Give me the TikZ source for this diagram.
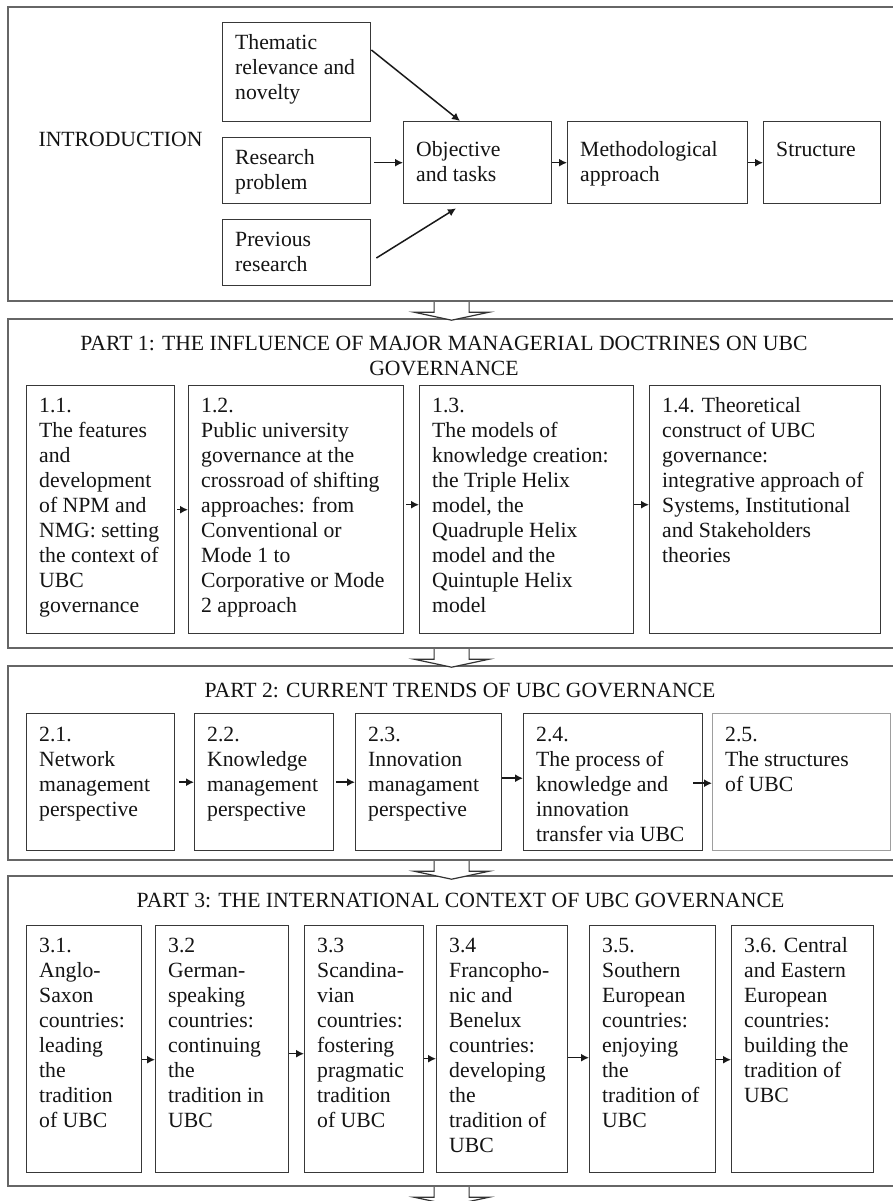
\documentclass[tikz,border=0pt]{standalone}
\usepackage{fontspec}
\setmainfont{Liberation Serif}
\usetikzlibrary{arrows.meta,calc}

% hollow down arrow that joins one part frame to the next
\newcommand\downblock[1]{%
  \draw[bigarrow] ([xshift=-18.5pt]#1.south) -- ++(0,10) -- ++(-20,0)
    -- ++(37.5,8) -- ++(37.5,-8) -- ++(-20,0) -- ++(0,-10);}

\begin{document}
\begin{tikzpicture}[x=1pt,y=-1pt,
  every node/.style={font=\fontsize{21.7}{25}\selectfont, text=black!92},
  frame/.style={draw=black!60, line width=2.2pt, fill=white, anchor=north west, inner sep=0pt},
  cell/.style={draw=black!78, line width=1.4pt, fill=white, anchor=north west, inner sep=0pt},
  faint/.style={draw=black!38},
  txt/.style={anchor=north west, inner sep=0pt, align=left},
  link/.style={draw=black!90, line width=1.5pt, -{Latex[length=8pt,width=8pt]}},
  bigarrow/.style={draw=black!80, line width=1.2pt, fill=white, line join=miter},
]
\useasboundingbox (0,0) rectangle (893,1201);

% ---- part frames ----
\node[frame, minimum width=889pt, minimum height=294pt] (intro) at (7,6) {};
\node[frame, minimum width=889pt, minimum height=329pt] (p1) at (7,318) {};
\node[frame, minimum width=889pt, minimum height=194pt] (p2) at (7,665) {};
\node[frame, minimum width=889pt, minimum height=310pt] (p3) at (7,875) {};

\downblock{intro}
\downblock{p1}
\downblock{p2}
\downblock{p3}

% ---- introduction ----
\node[anchor=base] (introlabel) at (120.5,147) {INTRODUCTION};

\node[cell, minimum width=148pt, minimum height=99pt] (tm) at (222,22) {};
\node[cell, minimum width=148pt, minimum height=66pt] (rp) at (222,137) {};
\node[cell, minimum width=148pt, minimum height=66pt] (pr) at (222,219) {};
\node[cell, minimum width=148pt, minimum height=82pt] (ob) at (403,121) {};
\node[cell, minimum width=180pt, minimum height=82pt] (me) at (567,121) {};
\node[cell, minimum width=117pt, minimum height=82pt] (st) at (763,121) {};

\node[txt] (tmx) at ([xshift=13pt,yshift=-11pt]tm.north west) {\rule{0pt}{16pt}Thematic\\relevance and\\novelty};
\node[txt] (rpx) at ([xshift=13pt,yshift=-11pt]rp.north west) {\rule{0pt}{16pt}Research\\problem};
\node[txt] (prx) at ([xshift=13pt,yshift=-11pt]pr.north west) {\rule{0pt}{16pt}Previous\\research};
\node[txt] (obx) at ([xshift=13pt,yshift=-19pt]ob.north west) {\rule{0pt}{16pt}Objective\\and tasks};
\node[txt] (mex) at ([xshift=13pt,yshift=-19pt]me.north west) {\rule{0pt}{16pt}Methodological\\approach};
\node[txt] (stx) at ([xshift=13pt,yshift=-19pt]st.north west) {\rule{0pt}{16pt}Structure};

\draw[link] ([yshift=-28pt]tm.north east) -- ([xshift=57pt]ob.north west);
\draw[link] ([xshift=3pt]rp.east |- ob.west) -- (ob.west);
\draw[link] ([xshift=5pt,yshift=-39pt]pr.north east) -- ([xshift=53pt,yshift=-4pt]ob.south west);
\draw[link] (ob.east) -- (me.west);
\draw[link] (me.east) -- (st.west);

% ---- part 1 ----
\node[anchor=north, align=center] (p1title) at (444,331)
  {\rule{0pt}{16pt}PART 1: THE INFLUENCE OF MAJOR MANAGERIAL DOCTRINES ON UBC\\GOVERNANCE};

\node[cell, minimum width=148pt, minimum height=248pt] (b11) at (26,385) {};
\node[cell, minimum width=215pt, minimum height=248pt] (b12) at (188,385) {};
\node[cell, minimum width=214pt, minimum height=248pt] (b13) at (419,385) {};
\node[cell, minimum width=231pt, minimum height=248pt] (b14) at (649,385) {};

\node[txt] (b11x) at ([xshift=13pt,yshift=-11pt]b11.north west)
  {\rule{0pt}{16pt}1.1.\\The features\\and\\development\\of NPM and\\NMG: setting\\the context of\\UBC\\governance};
\node[txt] (b12x) at ([xshift=13pt,yshift=-11pt]b12.north west)
  {\rule{0pt}{16pt}1.2.\\Public university\\governance at the\\crossroad of shifting\\approaches: from\\Conventional or\\Mode 1 to\\Corporative or Mode\\2 approach};
\node[txt] (b13x) at ([xshift=13pt,yshift=-11pt]b13.north west)
  {\rule{0pt}{16pt}1.3.\\The models of\\knowledge creation:\\the Triple Helix\\model, the\\Quadruple Helix\\model and the\\Quintuple Helix\\model};
\node[txt] (b14x) at ([xshift=13pt,yshift=-11pt]b14.north west)
  {\rule{0pt}{16pt}1.4. Theoretical\\construct of UBC\\governance:\\integrative approach of\\Systems, Institutional\\and Stakeholders\\theories};

\draw[link] ([xshift=2pt]b11.east) -- (b12.west);
\draw[link] ([xshift=2pt,yshift=5pt]b12.east) -- ([yshift=5pt]b13.west);
\draw[link] ([yshift=5pt]b13.east) -- ([yshift=5pt]b14.west);

% ---- part 2 ----
\node[anchor=base] (p2title) at (460,697) {PART 2: CURRENT TRENDS OF UBC GOVERNANCE};

\node[cell, minimum width=148pt, minimum height=137pt] (b21) at (26,713) {};
\node[cell, minimum width=139pt, minimum height=137pt] (b22) at (194,713) {};
\node[cell, minimum width=146pt, minimum height=137pt] (b23) at (355,713) {};
\node[cell, minimum width=179pt, minimum height=137pt] (b24) at (523,713) {};
\node[cell, faint, minimum width=178pt, minimum height=137pt] (b25) at (712,713) {};

\node[txt] (b21x) at ([xshift=13pt,yshift=-12pt]b21.north west) {\rule{0pt}{16pt}2.1.\\Network\\management\\perspective};
\node[txt] (b22x) at ([xshift=13pt,yshift=-12pt]b22.north west) {\rule{0pt}{16pt}2.2.\\Knowledge\\management\\perspective};
\node[txt] (b23x) at ([xshift=13pt,yshift=-12pt]b23.north west) {\rule{0pt}{16pt}2.3.\\Innovation\\managament\\perspective};
\node[txt] (b24x) at ([xshift=13pt,yshift=-12pt]b24.north west) {\rule{0pt}{16pt}2.4.\\The process of\\knowledge and\\innovation\\transfer via UBC};
\node[txt] (b25x) at ([xshift=13pt,yshift=-12pt]b25.north west) {\rule{0pt}{16pt}2.5.\\The structures\\of UBC};

\draw[link] ([xshift=4pt]b21.east) -- (b22.west);
\draw[link] ([xshift=2pt]b22.east) -- (b23.west);
\draw[link] ([yshift=4pt]b23.east) -- ([yshift=4pt]b24.west);
\draw[link] ([xshift=-10pt,yshift=-1pt]b24.east) -- ([yshift=-1pt]b25.west);

% ---- part 3 ----
\node[anchor=base] (p3title) at (460.5,907) {PART 3: THE INTERNATIONAL CONTEXT OF UBC GOVERNANCE};

\node[cell, minimum width=115pt, minimum height=247pt] (b31) at (26,925) {};
\node[cell, minimum width=133pt, minimum height=247pt] (b32) at (155,925) {};
\node[cell, minimum width=119pt, minimum height=247pt] (b33) at (304,925) {};
\node[cell, minimum width=131pt, minimum height=247pt] (b34) at (436,925) {};
\node[cell, minimum width=126pt, minimum height=247pt] (b35) at (589,925) {};
\node[cell, minimum width=142pt, minimum height=247pt] (b36) at (731,925) {};

\node[txt] (b31x) at ([xshift=13pt,yshift=-11pt]b31.north west)
  {\rule{0pt}{16pt}3.1.\\Anglo-\\Saxon\\countries:\\leading\\the\\tradition\\of UBC};
\node[txt] (b32x) at ([xshift=13pt,yshift=-11pt]b32.north west)
  {\rule{0pt}{16pt}3.2\\German-\\speaking\\countries:\\continuing\\the\\tradition in\\UBC};
\node[txt] (b33x) at ([xshift=13pt,yshift=-11pt]b33.north west)
  {\rule{0pt}{16pt}3.3\\Scandina-\\vian\\countries:\\fostering\\pragmatic\\tradition\\of UBC};
\node[txt] (b34x) at ([xshift=13pt,yshift=-11pt]b34.north west)
  {\rule{0pt}{16pt}3.4\\Francopho-\\nic and\\Benelux\\countries:\\developing\\the\\tradition of\\UBC};
\node[txt] (b35x) at ([xshift=13pt,yshift=-11pt]b35.north west)
  {\rule{0pt}{16pt}3.5.\\Southern\\European\\countries:\\enjoying\\the\\tradition of\\UBC};
\node[txt] (b36x) at ([xshift=13pt,yshift=-11pt]b36.north west)
  {\rule{0pt}{16pt}3.6. Central\\and Eastern\\European\\countries:\\building the\\tradition of\\UBC};

\draw[link] ([yshift=-10.5pt]b31.east) -- ([yshift=-10.5pt]b32.west);
\draw[link] ([yshift=-4.5pt]b32.east) -- ([yshift=-4.5pt]b33.west);
\draw[link] ([yshift=-9.5pt]b33.east) -- ([yshift=-9.5pt]b34.west);
\draw[link] ([yshift=-8.5pt]b34.east) -- ([yshift=-8.5pt]b35.west);
\draw[link] ([yshift=-10.5pt]b35.east) -- ([yshift=-10.5pt]b36.west);
\end{tikzpicture}
\end{document}
